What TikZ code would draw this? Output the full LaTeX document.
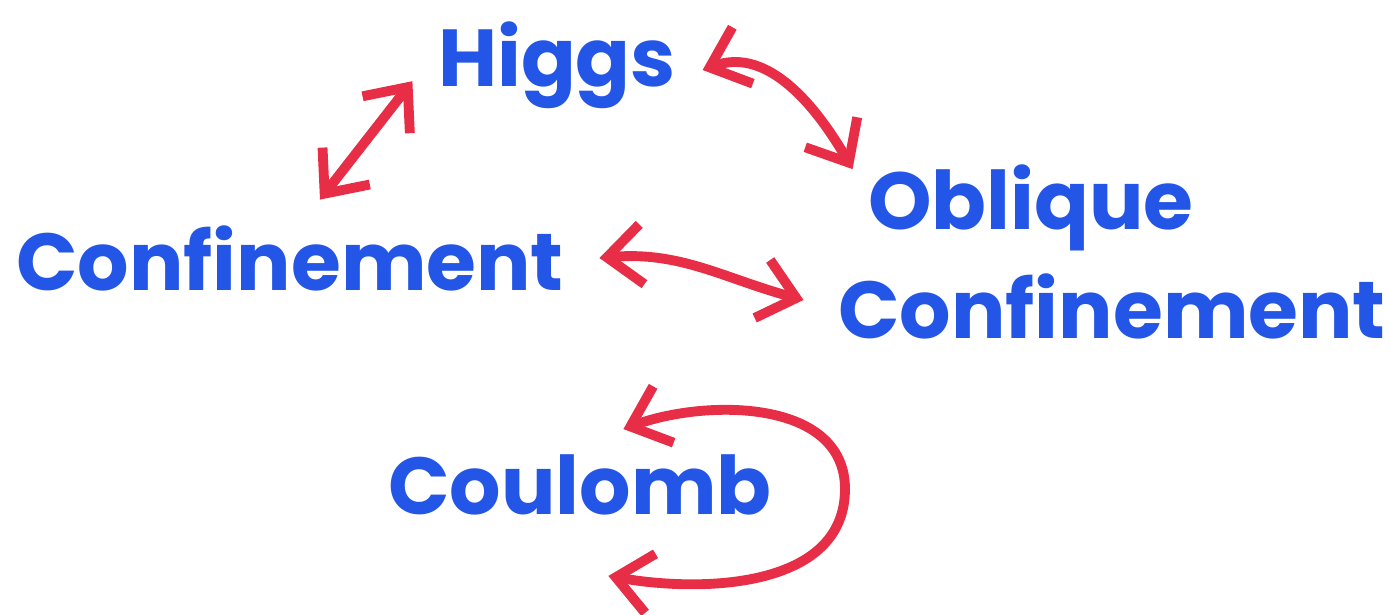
\documentclass[tikz,border=0pt]{standalone}
\usepackage{fontspec}
\setmainfont{Poppins}
\usepackage{xcolor}
\usetikzlibrary{positioning, arrows.meta}
\definecolor{inkblue}{RGB}{35,85,230}
\definecolor{inkred}{RGB}{232,45,70}

\begin{document}
\begin{tikzpicture}[
  word/.style={text=inkblue, font=\fontsize{23}{31}\selectfont\bfseries,
               inner sep=0pt, align=left},
  dbl/.style={{Straight Barb[length=3.5mm,width=6mm]}-{Straight Barb[length=3.5mm,width=6mm]},
              draw=inkred, line width=2.8pt, line cap=round, line join=round},
]
\useasboundingbox (0,0) rectangle (13.9,6.14);
%% Labels
\node[word] at (5.57,5.49) (higgs) {Higgs};
\node[word] at (2.90,3.56) (conf)  {Confinement};
\node[word] at (11.12,3.62) (obl)  {\hspace{0.3cm}Oblique\\Confinement};
\node[word] at (5.80,1.29) (coul)  {Coulomb};
%% Arrows
\draw[dbl] ([shift={(-0.25,0.28)}]higgs.south west) -- ([shift={(0.3,0.25)}]conf.north);
\draw[dbl] ([shift={(0.26,-0.05)}]higgs.east) to[out=20,in=120]
           ([shift={(0.15,-0.05)}]obl.north west);
\draw[dbl] ([shift={(0.35,0)}]conf.east) to[out=5,in=165]
           ([shift={(-0.34,-0.48)}]obl.west);
%% Self loop
\coordinate (loopR) at (8.45,1.25);
\draw[dbl] ([shift={(-1.49,0.25)}]coul.north east) to[out=20,in=90] (loopR)
           to[out=-90,in=-10] ([shift={(-1.64,-0.6)}]coul.south east);
\end{tikzpicture}
\end{document}
